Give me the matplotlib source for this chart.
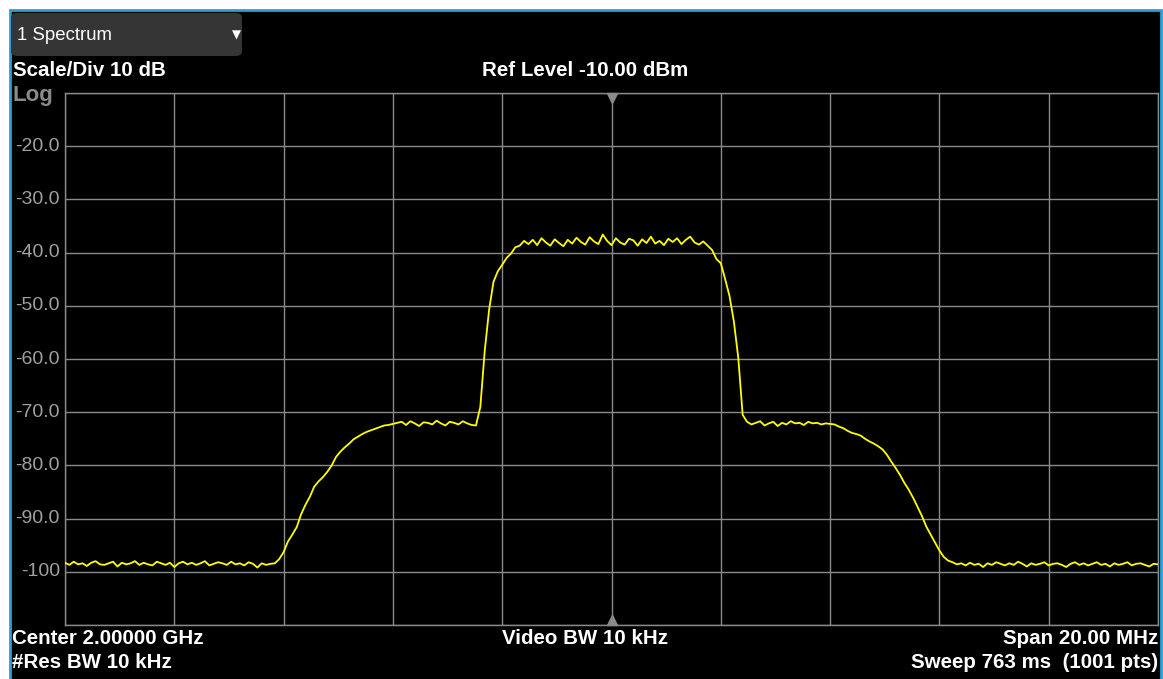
import numpy as np
import matplotlib
matplotlib.use("Agg")
import matplotlib.pyplot as plt
from matplotlib.patches import Rectangle, FancyBboxPatch

# ----------------------------------------------------------------------------
# Trace data (dBm), 251 points, sweep 1990 .. 2010 MHz

left_floor = [-98.3, -98.7, -98.1, -98.6, -98.4, -98.9, -98.3, -98.0, -98.6, -98.7,
              -98.4, -98.1, -99.0, -98.3, -98.6, -98.4, -98.0, -98.7, -98.3, -98.6,
              -98.8, -98.1, -98.4, -98.7, -98.3, -99.1, -98.4, -98.1, -98.6, -98.3,
              -98.7, -98.4, -98.0, -98.8, -98.5, -98.2, -98.4, -98.7, -98.1, -98.6,
              -98.4, -98.8, -98.2, -98.5, -99.2, -98.4, -98.7, -98.5]
left_rise = [-98.4, -97.6, -96.3, -94.3, -93.0, -91.6, -89.2, -87.4, -85.9, -84.0,
             -83.0, -82.2, -81.2, -80.0, -78.4, -77.4, -76.6, -75.9, -75.1, -74.6,
             -74.1, -73.7, -73.4, -73.1, -72.8, -72.5, -72.4, -72.2]
left_shoulder = [-72.0, -71.8, -72.4, -71.7, -72.1, -72.6, -71.9, -72.0, -72.3, -71.6,
                 -72.1, -72.5, -71.8, -72.0, -72.3, -71.7, -72.1, -72.4, -72.5]
main_rise = [-69.0, -58.5, -50.8, -45.5, -43.5, -42.3, -41.0, -40.2, -39.0, -38.7, -37.8]
plateau = [-38.4, -37.6, -38.6, -37.3, -38.1, -38.7, -37.5, -38.2, -38.8, -37.6,
           -38.3, -37.2, -38.0, -38.5, -37.1, -37.9, -38.4, -36.6, -37.8, -38.6,
           -37.3, -38.1, -38.5, -37.4, -37.7, -38.7, -37.5, -38.2, -37.0, -38.3,
           -37.8, -38.6, -37.4, -38.0, -37.3, -38.4, -37.6, -37.0, -38.1, -38.5,
           -37.9, -38.7]
main_fall = [-39.5, -41.2, -42.0, -45.0, -48.2, -53.0, -59.8, -70.5]
right_shoulder = [-71.8, -72.3, -72.0, -71.7, -72.5, -72.1, -71.8, -72.6, -72.0, -72.3,
                  -71.7, -72.1, -72.0, -72.4, -71.8, -72.1, -72.0, -72.3, -72.1, -72.2]
right_fall = [-72.3, -72.7, -73.0, -73.5, -73.9, -74.1, -74.4, -75.0, -75.5, -75.9,
              -76.4, -77.0, -78.0, -79.3, -80.5, -81.8, -83.3, -84.6, -86.1, -87.8,
              -89.5, -91.5, -93.0, -94.5, -96.0, -97.2, -97.9]
right_floor = [-98.2, -98.6, -98.4, -98.8, -98.3, -98.7, -98.5, -99.1, -98.4, -98.7,
               -98.2, -98.5, -98.8, -98.4, -98.7, -98.1, -98.5, -99.0, -98.4, -98.7,
               -98.5, -98.2, -98.8, -98.5, -98.4, -98.7, -99.1, -98.5, -98.2, -98.7,
               -98.4, -98.8, -98.5, -98.2, -98.7, -98.5, -99.0, -98.4, -98.7, -98.5,
               -98.2, -98.8, -98.5, -98.4, -98.7, -99.0, -98.5, -98.6]

trace = np.array(left_floor + left_rise + left_shoulder + main_rise + plateau
                 + main_fall + right_shoulder + right_fall + right_floor)

f_start, f_stop = 1990.0, 2010.0          # MHz
ref_level, db_div = -10.0, 10.0
ytick_vals = [-20, -30, -40, -50, -60, -70, -80, -90, -100]
ytick_labels = ["-20.0", "-30.0", "-40.0", "-50.0", "-60.0", "-70.0", "-80.0", "-90.0", "-100"]

# ----------------------------------------------------------------------------

W, H = 1163, 679
FONT = ["Liberation Sans", "DejaVu Sans"]
plt.rcParams["font.family"] = FONT


def fx(x):
    return x / W


def fy(y):
    return 1 - y / H


fig = plt.figure(figsize=(W / 100, H / 100), dpi=100, facecolor="white")

# black instrument panel with blue frame
fig.patches.append(Rectangle((fx(9.5), fy(700)), fx(1151), 690 / H, transform=fig.transFigure,
                             facecolor="black", edgecolor="#2a9fd6", linewidth=2, zorder=-10))

# tab "1 Spectrum"
fig.patches.append(FancyBboxPatch((fx(11), fy(56)), fx(231), 43 / H, transform=fig.transFigure,
                                  boxstyle="round,pad=0,rounding_size=0.006",
                                  facecolor="#353535", edgecolor="none", zorder=-5))
fig.text(fx(17), fy(35), "1 Spectrum", color="white", fontsize=13.4, va="center", ha="left")
fig.text(fx(236), fy(35), "\u25bc", color="white", fontsize=8.5, va="center", ha="center",
         family=["DejaVu Sans"])

ax = fig.add_axes([fx(65), fy(625), 1093 / W, 532 / H])
ax.set_zorder(2)
ax.set_facecolor("black")
freqs = np.linspace(f_start, f_stop, len(trace))
ax.plot(freqs, trace, color="#ffff00", lw=1.3, zorder=3)

ax.set_xlim(f_start, f_stop)
ax.set_ylim(ref_level - 10 * db_div, ref_level)
ax.set_xticks(np.linspace(f_start, f_stop, 11))
ax.set_xticklabels([])
ax.set_yticks(np.arange(ref_level - 10 * db_div, ref_level + 1, db_div))
ax.set_yticklabels([])
ax.grid(True, color="#8a8a8a", lw=1.0)
ax.tick_params(length=0)
for s in ax.spines.values():
    s.set_color("#8a8a8a")
    s.set_linewidth(1.0)

for v, lab in zip(ytick_vals, ytick_labels):
    ax.annotate(lab, (0, v), xycoords=("axes fraction", "data"), xytext=(-5, 0),
                textcoords="offset pixels", ha="right", va="center",
                color="#a0a0a0", fontsize=14, annotation_clip=False)

# center markers
ax.plot([2000], [ref_level - 0.9], marker="v", color="#8a8a8a", ms=7, clip_on=False, zorder=4)
ax.plot([2000], [ref_level - 10 * db_div + 0.9], marker="^", color="#8a8a8a", ms=7,
        clip_on=False, zorder=4)

# annotations
bold = dict(color="white", fontsize=14.8, fontweight="bold", va="center")
fig.text(fx(13), fy(70), "Scale/Div 10 dB", ha="left", **bold)
fig.text(fx(585), fy(70), "Ref Level -10.00 dBm", ha="center", **bold)
fig.text(fx(13), fy(95), "Log", ha="left", color="#8a8a8a", fontsize=16, fontweight="bold",
         va="center")
fig.text(fx(12), fy(639), "Center 2.00000 GHz", ha="left", **bold)
fig.text(fx(12), fy(663), "#Res BW 10 kHz", ha="left", **bold)
fig.text(fx(585), fy(639), "Video BW 10 kHz", ha="center", **bold)
fig.text(fx(1158), fy(639), "Span 20.00 MHz", ha="right", **bold)
fig.text(fx(1158), fy(663), "Sweep 763 ms  (1001 pts)", ha="right", **bold)

fig.savefig("out.png", dpi=100, facecolor="white")
